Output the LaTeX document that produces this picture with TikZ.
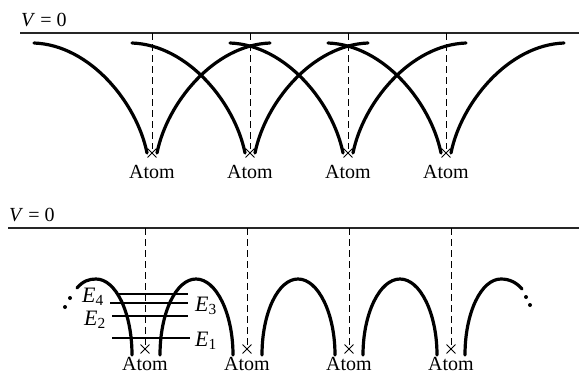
\documentclass[tikz,border=0pt]{standalone}
\usepackage{fontspec}
\setmainfont{Liberation Serif}
\usepackage{tikz}
\usetikzlibrary{shapes.misc, positioning}
\tikzset{
  atommark/.style={
    cross out, draw=black, line width=0.9pt,
    minimum size=8pt, inner sep=0pt
  },
  atomlabel/.style={
    font=\fontsize{20}{24}\selectfont, inner sep=1pt
  },
  wellwall/.style={
    line width=3.2pt, line cap=round
  },
  vacline/.style={
    line width=1.2pt, draw=black!85
  },
  guide/.style={
    dash pattern=on 7pt off 4pt, line width=0.9pt
  },
  level/.style={
    line width=1.3pt
  },
  levellabel/.style={
    font=\fontsize{22}{26}\selectfont, inner sep=1pt
  }
}

\begin{document}
\begin{tikzpicture}[x=1pt, y=-1pt]
    \useasboundingbox (0,0) rectangle (579,376);
    % isolated atoms: overlapping wells
    \node[atomlabel, anchor=base west] (vtop) at (20,26) {\textit{V} = 0};
    \coordinate (ltop) at (20,33);
    \coordinate (rtop) at (579,33);
    \draw[vacline] (ltop) -- (rtop);
    \node[atommark] (ta1) at (152,153) {};
    \node[atommark] (ta2) at (250,153) {};
    \node[atommark] (ta3) at (348,153) {};
    \node[atommark] (ta4) at (446,153) {};
    \foreach \n in {ta1,ta2,ta3,ta4} {
      \node[atomlabel, below=7pt of \n] {Atom};
      \draw[guide] (\n |- ltop) -- (\n);
    }
    \foreach \x in {152,250,348,446} {
      \draw[wellwall] (\x-118,43) .. controls (\x-62,45) and (\x-15,103) .. (\x-5,153);
      \draw[wellwall] (\x+5,153) .. controls (\x+15,103) and (\x+62,45) .. (\x+118,43);
    }
    % crystal: lowered barriers
    \node[atomlabel, anchor=base west] (vbot) at (8,221) {\textit{V} = 0};
    \coordinate (lbot) at (8,228);
    \coordinate (rbot) at (579,228);
    \draw[vacline] (lbot) -- (rbot);
    \node[atommark] (ba1) at (145,349) {};
    \node[atommark] (ba2) at (247,349) {};
    \node[atommark] (ba3) at (349,349) {};
    \node[atommark] (ba4) at (451,349) {};
    \foreach \n in {ba1,ba2,ba3,ba4} {
      \node[atomlabel, below=3pt of \n] {Atom};
      \draw[guide] (\n |- lbot) -- (\n);
    }
    \foreach \a/\m/\b in {160/196/233, 262/298/335, 363/400/437} {
      \draw[wellwall] (\a,355) .. controls (\a,313) and (\m-20,279) .. (\m,279)
        .. controls (\m+20,279) and (\b,313) .. (\b,355);
    }
    \draw[wellwall] (77,288) .. controls (83,281) and (89,279) .. (96,279)
      .. controls (116,279) and (132,313) .. (132,355);
    \draw[wellwall] (465,355) .. controls (465,313) and (481,279) .. (501,279)
      .. controls (510,279) and (517,283) .. (522,289);
    \fill (70,298) circle (2pt);
    \fill (65,307) circle (2pt);
    \fill (526,297) circle (2pt);
    \fill (530,305) circle (2pt);
    % energy levels
    \draw[level] (117,294) -- (188,294);
    \draw[level] (110,303) -- (188,303);
    \draw[level] (112,316) -- (188,316);
    \draw[level] (112,338) -- (190,338);
    \node[levellabel] (e4) at (93,297) {\textit{E}\textsubscript{4}};
    \node[levellabel] (e3) at (206,306) {\textit{E}\textsubscript{3}};
    \node[levellabel] (e2) at (95,320) {\textit{E}\textsubscript{2}};
    \node[levellabel] (e1) at (206,341) {\textit{E}\textsubscript{1}};
\end{tikzpicture}
\end{document}
